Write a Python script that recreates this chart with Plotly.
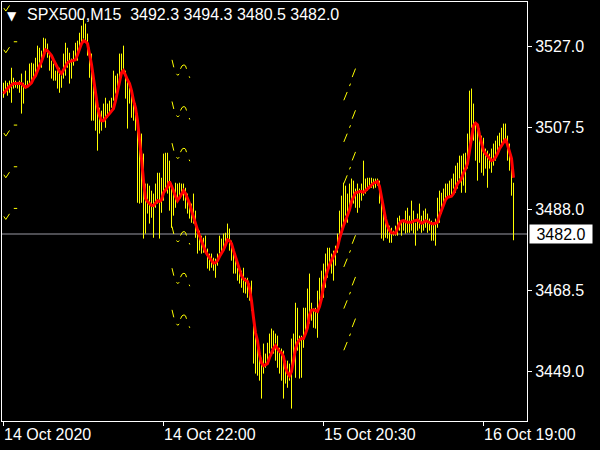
import plotly.graph_objects as go

# ---------------- data ----------------
bar_high = [
    3518.3, 3518.8, 3518.3, 3518.8, 3521.9, 3519.5, 3518.8, 3518.3, 3518.8, 3520.5,
    3518.3, 3521.2, 3518.8, 3522.9, 3523.1, 3522.9, 3524.3, 3527.2, 3526.7, 3526.0,
    3529.1, 3528.9, 3527.7, 3525.3, 3523.6, 3522.9, 3521.2, 3521.9, 3521.9, 3520.7,
    3525.3, 3527.9, 3526.7, 3525.5, 3524.1, 3526.0, 3527.9, 3528.4, 3530.3, 3532.0,
    3533.7, 3532.5, 3530.1, 3526.7, 3525.3, 3519.5, 3514.7, 3513.3, 3512.3, 3511.6,
    3513.3, 3514.7, 3513.3, 3514.0, 3514.7, 3521.2, 3520.0, 3520.5, 3525.3, 3525.3,
    3527.2, 3521.2, 3519.3, 3517.1, 3515.9, 3514.7, 3513.3, 3510.9, 3505.1, 3506.1,
    3501.3, 3494.1, 3494.1, 3493.6, 3492.4, 3491.7, 3494.1, 3496.7, 3496.7, 3495.5,
    3501.3, 3501.5, 3501.5, 3499.6, 3494.1, 3492.4, 3494.3, 3494.1, 3494.3, 3494.1,
    3494.1, 3493.1, 3491.7, 3489.5, 3489.3, 3491.7, 3487.6, 3483.5, 3482.8, 3481.6,
    3481.1, 3481.6, 3478.5, 3477.3, 3477.3, 3476.3, 3476.1, 3477.3, 3481.6, 3480.9,
    3482.1, 3482.3, 3484.5, 3483.3, 3480.4, 3478.7, 3477.3, 3473.9, 3473.7, 3473.2,
    3473.9, 3471.5, 3471.5, 3470.1, 3470.8, 3461.9, 3458.1, 3455.7, 3453.3, 3452.3,
    3455.7, 3453.3, 3455.9, 3458.1, 3459.3, 3458.8, 3458.1, 3457.6, 3454.7, 3454.5,
    3454.0, 3451.6, 3451.6, 3450.9, 3456.9, 3458.1, 3465.5, 3464.3, 3457.6, 3457.6,
    3464.3, 3464.3, 3468.9, 3472.5, 3465.5, 3464.1, 3464.3, 3468.4, 3471.5, 3473.2,
    3474.9, 3477.3, 3478.7, 3478.7, 3477.3, 3478.0, 3479.2, 3482.1, 3487.6, 3491.2,
    3494.3, 3493.6, 3491.7, 3494.1, 3495.3, 3494.8, 3492.9, 3494.1, 3492.9, 3494.1,
    3499.6, 3495.3, 3495.5, 3495.5, 3495.5, 3495.3, 3495.3, 3495.3, 3494.8, 3491.9,
    3489.3, 3486.9, 3483.5, 3484.0, 3483.5, 3482.8, 3484.0, 3485.9, 3486.4, 3485.2,
    3485.2, 3487.6, 3488.3, 3486.4, 3490.0, 3487.6, 3484.7, 3486.9, 3489.3, 3486.4,
    3487.6, 3488.1, 3486.9, 3485.7, 3485.2, 3484.7, 3485.7, 3490.7, 3492.4, 3491.9,
    3492.9, 3494.1, 3494.1, 3494.8, 3495.3, 3496.5, 3498.4, 3499.1, 3500.8, 3500.8,
    3501.3, 3501.5, 3506.1, 3516.4, 3516.9, 3513.3, 3508.5, 3507.3, 3507.3, 3505.6,
    3505.1, 3502.5, 3502.0, 3501.3, 3502.5, 3503.7, 3504.4, 3505.6, 3506.3, 3507.5,
    3508.5, 3508.5, 3505.6, 3503.7, 3500.1, 3494.3,
]
bar_low = [
    3514.7, 3515.9, 3515.2, 3515.9, 3513.5, 3516.9, 3517.1, 3516.9, 3515.9, 3510.9,
    3513.3, 3516.9, 3517.1, 3517.6, 3518.3, 3519.5, 3520.5, 3521.9, 3523.1, 3521.9,
    3524.8, 3525.5, 3524.3, 3521.2, 3519.3, 3518.8, 3518.8, 3516.9, 3515.9, 3517.1,
    3519.3, 3520.0, 3521.9, 3518.1, 3519.3, 3522.4, 3524.3, 3523.6, 3526.0, 3527.7,
    3528.9, 3527.9, 3524.8, 3519.5, 3509.2, 3509.2, 3506.8, 3502.0, 3506.1, 3506.8,
    3509.2, 3507.5, 3509.9, 3510.9, 3512.3, 3514.0, 3515.7, 3516.4, 3519.3, 3521.2,
    3520.5, 3514.5, 3507.3, 3513.3, 3509.9, 3509.2, 3506.8, 3489.5, 3489.3, 3489.5,
    3480.9, 3482.1, 3486.9, 3484.5, 3485.9, 3481.1, 3488.3, 3489.3, 3480.9, 3487.1,
    3490.0, 3493.1, 3491.7, 3487.6, 3483.5, 3486.4, 3488.3, 3489.5, 3490.7, 3491.7,
    3490.0, 3488.1, 3486.9, 3485.7, 3484.7, 3484.5, 3481.1, 3477.3, 3478.0, 3477.3,
    3477.5, 3477.3, 3473.7, 3473.2, 3473.9, 3473.2, 3471.5, 3474.4, 3477.3, 3477.3,
    3478.0, 3478.7, 3479.9, 3478.0, 3475.6, 3472.5, 3472.5, 3470.8, 3470.1, 3469.1,
    3467.9, 3467.7, 3466.7, 3466.0, 3463.6, 3450.9, 3448.5, 3448.0, 3446.8, 3442.5,
    3448.5, 3449.9, 3451.6, 3453.3, 3454.5, 3453.3, 3451.6, 3449.9, 3448.5, 3446.8,
    3442.5, 3446.1, 3445.1, 3446.8, 3440.1, 3450.9, 3447.5, 3454.0, 3447.3, 3447.5,
    3454.7, 3458.1, 3461.2, 3460.5, 3461.2, 3459.5, 3459.3, 3457.1, 3464.3, 3467.7,
    3466.7, 3469.1, 3471.5, 3473.9, 3472.5, 3470.8, 3474.4, 3477.5, 3480.9, 3483.3,
    3484.7, 3486.4, 3484.7, 3487.6, 3489.5, 3489.3, 3488.3, 3487.1, 3488.3, 3490.0,
    3491.2, 3491.7, 3492.4, 3492.9, 3493.1, 3492.9, 3493.1, 3493.6, 3489.3, 3480.9,
    3480.4, 3481.1, 3480.9, 3479.9, 3479.9, 3481.6, 3481.6, 3481.6, 3482.8, 3481.6,
    3482.8, 3482.1, 3482.3, 3482.3, 3482.8, 3482.1, 3479.2, 3482.8, 3483.3, 3482.3,
    3482.8, 3483.5, 3482.3, 3482.8, 3480.4, 3480.4, 3479.2, 3483.5, 3484.7, 3486.9,
    3488.3, 3490.0, 3490.7, 3490.7, 3491.2, 3492.9, 3491.9, 3492.9, 3495.3, 3491.9,
    3493.6, 3491.9, 3497.7, 3503.2, 3507.5, 3504.4, 3499.6, 3494.8, 3499.1, 3496.7,
    3496.0, 3497.7, 3493.1, 3497.7, 3496.7, 3498.4, 3499.6, 3500.8, 3502.0, 3503.7,
    3503.7, 3504.4, 3499.6, 3497.2, 3491.2, 3480.5,
]
ma_line = [
    3515.7, 3516.4, 3516.9, 3517.4, 3517.8, 3518.1, 3518.1, 3518.2, 3518.2, 3518.1,
    3517.6, 3517.2, 3517.4, 3517.8, 3518.3, 3519.3, 3520.0, 3521.2, 3522.2, 3523.4,
    3524.8, 3526.2, 3526.0, 3525.5, 3524.8, 3523.8, 3522.8, 3521.9, 3521.0, 3520.5,
    3521.4, 3522.4, 3523.1, 3523.4, 3523.5, 3523.6, 3523.8, 3525.0, 3526.5, 3527.7,
    3528.4, 3528.2, 3527.7, 3525.5, 3522.7, 3519.3, 3515.2, 3512.6, 3510.4, 3509.2,
    3509.2, 3509.9, 3510.4, 3510.9, 3511.4, 3512.1, 3514.0, 3516.4, 3518.8, 3520.7,
    3521.2, 3520.0, 3519.0, 3518.1, 3516.4, 3514.0, 3512.3, 3509.2, 3505.1, 3500.1,
    3494.8, 3490.5, 3489.8, 3489.3, 3488.9, 3488.8, 3489.5, 3490.0, 3489.8, 3490.2,
    3491.9, 3492.6, 3493.2, 3494.6, 3493.6, 3492.4, 3491.0, 3490.0, 3490.7, 3491.4,
    3492.4, 3491.7, 3490.5, 3489.3, 3487.6, 3485.9, 3484.5, 3483.0, 3481.6, 3480.2,
    3478.7, 3477.8, 3477.0, 3476.3, 3475.6, 3475.0, 3475.1, 3475.6, 3476.6, 3477.3,
    3478.2, 3479.4, 3480.6, 3480.4, 3479.7, 3478.0, 3476.4, 3474.6, 3473.2, 3472.0,
    3471.2, 3470.8, 3470.6, 3468.9, 3466.0, 3461.9, 3458.3, 3456.4, 3453.0, 3451.1,
    3450.4, 3450.6, 3450.9, 3452.3, 3453.5, 3454.5, 3455.2, 3454.5, 3453.8, 3453.5,
    3452.6, 3449.9, 3448.7, 3448.0, 3449.0, 3451.6, 3454.5, 3455.9, 3456.6, 3456.9,
    3456.9, 3458.1, 3459.5, 3462.6, 3463.7, 3463.8, 3463.6, 3463.4, 3464.6, 3466.5,
    3469.6, 3471.8, 3473.2, 3474.6, 3475.6, 3476.4, 3477.5, 3478.8, 3480.9, 3482.6,
    3484.0, 3485.2, 3486.4, 3487.8, 3489.8, 3491.0, 3491.9, 3492.0, 3492.2, 3492.2,
    3492.0, 3492.4, 3492.9, 3493.4, 3493.8, 3494.2, 3494.4, 3494.6, 3493.4, 3490.7,
    3487.8, 3485.7, 3484.0, 3482.9, 3482.3, 3482.2, 3482.2, 3483.3, 3484.5, 3485.1,
    3485.2, 3485.0, 3484.8, 3484.8, 3484.8, 3485.1, 3485.3, 3485.4, 3485.0, 3484.6,
    3484.8, 3485.2, 3485.0, 3484.7, 3484.5, 3484.4, 3484.6, 3484.8, 3486.4, 3487.8,
    3489.2, 3490.2, 3490.8, 3491.0, 3491.1, 3491.7, 3492.9, 3494.1, 3494.6, 3495.3,
    3496.7, 3497.6, 3498.9, 3502.0, 3505.1, 3508.0, 3508.6, 3508.2, 3505.8, 3503.7,
    3502.0, 3501.3, 3500.8, 3500.1, 3499.6, 3499.8, 3500.4, 3501.3, 3502.5, 3503.2,
    3503.9, 3504.8, 3503.4, 3501.8, 3500.1, 3495.5,
]

time_tick_bars = [0, 80, 160, 240]
time_tick_labels = ["14 Oct 2020", "14 Oct 22:00", "15 Oct 20:30", "16 Oct 19:00"]
price_ticks = [3449.0, 3468.5, 3488.0, 3507.5, 3527.0]
last_price = 3482.0
symbol = "SPX500,M15"
ohlc_values = ["3492.3", "3494.3", "3480.5", "3482.0"]

# indicator marks (price levels) drawn in three columns
deco_a_bar, deco_a_levels = 0, [3535.5, 3525.5, 3505.5, 3495.5, 3485.5]
deco_b_bar, deco_b_levels = 84, [3523.8, 3513.8, 3503.8, 3483.8, 3473.8, 3463.8]
deco_c_bar, deco_c_levels = 170, [3521.7, 3511.7, 3501.7, 3481.7, 3471.7, 3461.7]

# ---------------- layout geometry / style ----------------
W, H = 600, 450
ML, MR, MT, MB = 2, 73, 2, 29
plot_w = W - ML - MR
plot_h = H - MT - MB
px_per_bar = 2.0
price_per_px = 0.24
x_start = -0.75
x_range = [x_start, x_start + plot_w / px_per_bar]
y_top = price_ticks[-1] + 44.5 * price_per_px
y_range = [y_top - plot_h * price_per_px, y_top]

FONT = "Liberation Sans, Arial, sans-serif"
YELLOW = "#FFFF00"

# glyph templates in pixel offsets (dx right, dy down) from anchor
glyph_a = [[(0.3, -3), (2.3, 0), (6, -5.6)], [(10.3, -11), (13.7, -11)]]
glyph_b = [[(0.5, 0), (2.3, 7.5)],
           [(9, 9), (10.5, 6), (12.5, 5), (14, 6), (15, 9)],
           [(5, 14), (6.3, 15.5), (7.7, 14)],
           [(17.7, 16.5), (18.3, 18)]]
glyph_c = [[(8.7, 8.5), (12, 0)], [(6, 17.5), (7, 15)], [(0.3, 31.7), (3.7, 23.4)]]

fig = go.Figure()


def add_glyphs(anchor_bar, levels, strokes):
    xs, ys = [], []
    for lv in levels:
        for stroke in strokes:
            for dx, dy in stroke:
                xs.append(anchor_bar + dx / px_per_bar)
                ys.append(lv - dy * price_per_px)
            xs.append(None)
            ys.append(None)
    fig.add_trace(go.Scatter(x=xs, y=ys, mode="lines",
                             line=dict(color=YELLOW, width=1),
                             hoverinfo="skip", showlegend=False))


add_glyphs(deco_a_bar, deco_a_levels, glyph_a)
add_glyphs(deco_b_bar, deco_b_levels, glyph_b)
add_glyphs(deco_c_bar, deco_c_levels, glyph_c)

# bars (high-low vertical lines)
bx, by = [], []
for i, (hi, lo) in enumerate(zip(bar_high, bar_low)):
    bx += [i, i, None]
    by += [lo, hi, None]
fig.add_trace(go.Scatter(x=bx, y=by, mode="lines",
                         line=dict(color=YELLOW, width=1),
                         hoverinfo="skip", showlegend=False))

# red moving average
fig.add_trace(go.Scatter(x=list(range(len(ma_line))), y=ma_line, mode="lines",
                         line=dict(color="#FF0000", width=3),
                         hoverinfo="skip", showlegend=False))

# current price line
fig.add_shape(type="line", xref="paper", x0=0, x1=1, yref="y",
              y0=last_price, y1=last_price,
              line=dict(color="#9a9aa4", width=1), layer="below")

annotations = []
# price label box
annotations.append(dict(xref="paper", x=1, xanchor="left", xshift=2,
                        yref="y", y=last_price, yanchor="middle",
                        text=f"{last_price:.1f}", showarrow=False,
                        bgcolor="#FFFFFF", font=dict(color="#000000", size=16, family=FONT),
                        width=60, height=16, borderpad=1, align="center"))
# time labels
for tb, tl in zip(time_tick_bars, time_tick_labels):
    annotations.append(dict(xref="x", x=tb, xanchor="left", xshift=-2,
                            yref="paper", y=0, yanchor="top", yshift=-3,
                            text=tl, showarrow=False,
                            font=dict(color="#FFFFFF", size=16, family=FONT)))
# title
annotations.append(dict(xref="paper", x=0, xanchor="left", xshift=3,
                        yref="paper", y=1, yanchor="top", yshift=-5,
                        text="\u25BC", showarrow=False,
                        font=dict(color="#FFFFFF", size=12, family="DejaVu Sans")))
annotations.append(dict(xref="paper", x=0, xanchor="left", xshift=23,
                        yref="paper", y=1, yanchor="top", yshift=-2,
                        text=symbol + "\u00a0\u00a0" + " ".join(ohlc_values),
                        showarrow=False,
                        font=dict(color="#FFFFFF", size=16, family=FONT)))

fig.update_layout(
    width=W, height=H,
    margin=dict(l=ML, r=MR, t=MT, b=MB, pad=0),
    paper_bgcolor="#000000", plot_bgcolor="#000000",
    showlegend=False, hovermode=False,
    annotations=annotations,
    xaxis=dict(range=x_range, showgrid=False, zeroline=False,
               showline=True, linecolor="#FFFFFF", linewidth=1, mirror=True,
               ticks="outside", ticklen=4, tickcolor="#FFFFFF", tickwidth=1,
               tickvals=time_tick_bars, showticklabels=False, fixedrange=True),
    yaxis=dict(range=y_range, side="right", showgrid=False, zeroline=False,
               showline=True, linecolor="#FFFFFF", linewidth=1, mirror=True,
               ticks="outside", ticklen=4, tickcolor="#FFFFFF", tickwidth=1,
               tickvals=price_ticks, ticktext=[f"{v:.1f}" for v in price_ticks],
               tickfont=dict(color="#FFFFFF", size=16, family=FONT), fixedrange=True),
)

fig.write_html(
    "out.html",
    config={"displayModeBar": False},
    post_script="document.body.style.margin='0';document.body.style.background='#000';",
)
